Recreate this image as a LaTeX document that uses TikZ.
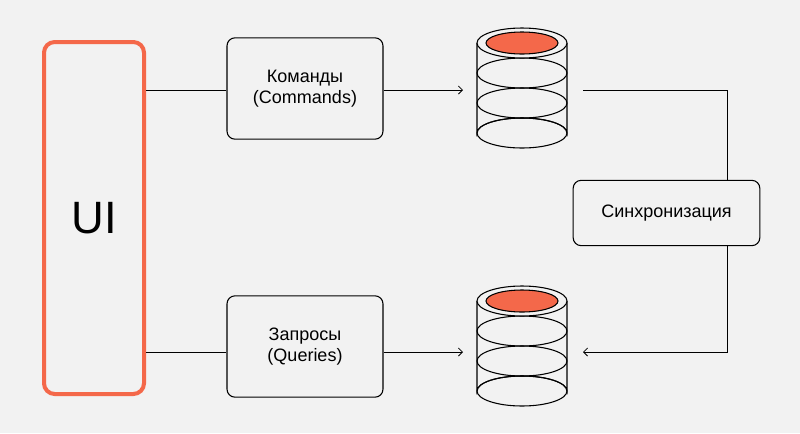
\documentclass[tikz,border=0pt]{standalone}
\usepackage{fontspec}
\setmainfont{Liberation Sans}
\usetikzlibrary{arrows.meta}
\definecolor{bg}{HTML}{F2F2F2}
\definecolor{accent}{HTML}{F4684A}
\begin{document}
\begin{tikzpicture}[x=0.75pt,y=-0.75pt,
  box/.style={draw=black,line width=0.8pt,rounded corners=6pt,fill=bg,align=center,font=\fontsize{13.5}{16}\selectfont},
  conn/.style={line width=0.6pt},
  arr/.style={conn,-{Straight Barb[length=3pt,width=6pt]}}]
\fill[bg] (0,0) rectangle (800,433);
\useasboundingbox (0,0) rectangle (800,433);
\node[draw=accent,line width=3pt,rounded corners=8pt,inner sep=0pt,minimum width=75pt,minimum height=264pt] (ui) at (94,218) {\fontsize{34}{40}\selectfont UI};
\node[box,minimum width=117pt,minimum height=76pt] (cmd) at (305,88.5) {Команды\\(Commands)};
\node[box,minimum width=117pt,minimum height=76pt] (qry) at (305,346.5) {Запросы\\(Queries)};
\node[box,minimum width=140pt,minimum height=49pt] (sync) at (666.5,213) {Синхронизация};
\foreach \n/\cy in {dbtop/43, dbbot/301}{
  \begin{scope}[line width=0.8pt]
  \draw[fill=bg] (477,\cy) -- (477,\cy+90) arc[start angle=180,end angle=360,x radius=45,y radius=15] -- (567,\cy);
  \foreach \k in {1,2,3}{\draw (522,\cy+30*\k) ellipse[x radius=45,y radius=15];}
  \draw[fill=bg] (522,\cy) ellipse[x radius=45,y radius=15];
  \draw[fill=accent] (522,\cy) ellipse[x radius=36,y radius=11];
  \end{scope}
  \coordinate (\n) at (522,\cy+49);
}
\coordinate (tin) at (463,90);
\coordinate (tout) at (583,90);
\coordinate (bin) at (463,352);
\coordinate (bout) at (583,352);
\coordinate (vx) at (727,0);
\draw[conn] (ui.east |- 0,90) -- (cmd.west |- 0,90);
\draw[conn] (ui.east |- 0,352) -- (qry.west |- 0,352);
\draw[arr] (cmd.east |- 0,90) -- (tin);
\draw[arr] (qry.east |- 0,352) -- (bin);
\draw[conn] (tout) -| (vx |- sync.north);
\draw[arr] (vx |- sync.south) |- (bout);
\end{tikzpicture}
\end{document}
